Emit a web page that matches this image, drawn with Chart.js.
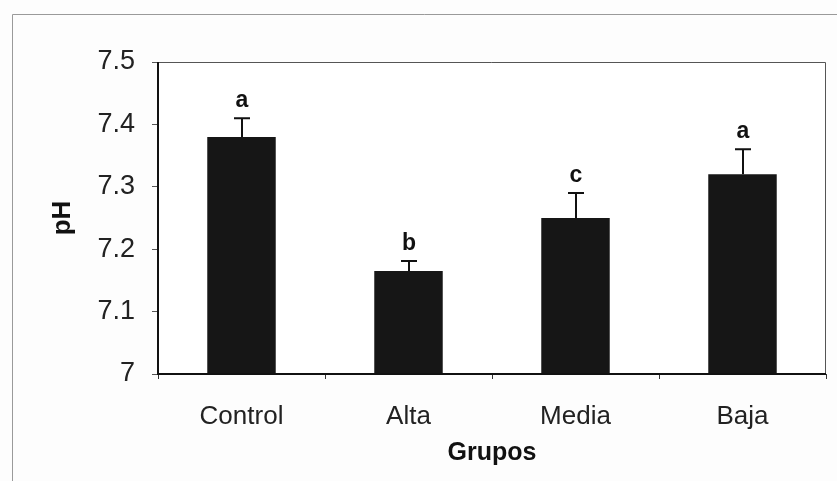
<!DOCTYPE html>
<html>
<head>
<meta charset="utf-8">
<script src="https://cdn.jsdelivr.net/npm/chart.js@4.4.1/dist/chart.umd.min.js"></script>
<style>
  html, body { margin: 0; padding: 0; background: #fdfdfd; }
  #wrap { width: 837px; height: 481px; position: relative; }
</style>
</head>
<body>
<div id="wrap"><canvas id="phChart" width="837" height="481"></canvas></div>
<script>
const grupos = ['Control', 'Alta', 'Media', 'Baja'];
const phMedia = [7.38, 7.165, 7.25, 7.32];
const phError = [0.03, 0.016, 0.04, 0.04];
const letras = ['a', 'b', 'c', 'a'];
const yTicks = [7, 7.1, 7.2, 7.3, 7.4, 7.5];

const FONT = '"Liberation Sans", Arial, sans-serif';

// outer frame of the scanned figure + plot border
const framePlugin = {
    id: 'frame',
    beforeDraw(chart) {
        const ctx = chart.ctx;
        ctx.save();
        ctx.strokeStyle = '#9a9a9a';
        ctx.lineWidth = 1;
        ctx.beginPath();
        ctx.moveTo(12.5, 481);
        ctx.lineTo(12.5, 14.5);
        ctx.lineTo(837, 14.5);
        ctx.stroke();
        const a = chart.chartArea;
        ctx.fillStyle = '#ffffff';
        ctx.fillRect(a.left, a.top, a.right - a.left, a.bottom - a.top);
        ctx.restore();
    },
    afterDatasetsDraw(chart) {
        const ctx = chart.ctx;
        const a = chart.chartArea;
        ctx.save();
        ctx.strokeStyle = '#555';
        ctx.lineWidth = 1;
        ctx.beginPath();
        ctx.moveTo(a.left, a.top + 0.5);
        ctx.lineTo(a.right - 0.5, a.top + 0.5);
        ctx.lineTo(a.right - 0.5, a.bottom);
        ctx.stroke();
        ctx.strokeStyle = '#111';
        ctx.lineWidth = 2;
        ctx.beginPath();
        ctx.moveTo(a.left, a.top);
        ctx.lineTo(a.left, a.bottom);
        ctx.lineTo(a.right, a.bottom);
        ctx.stroke();
        ctx.restore();
    }
};

// upward error bars and significance letters
const errorPlugin = {
    id: 'errorBars',
    afterDatasetsDraw(chart) {
        const ctx = chart.ctx;
        const x = chart.scales.x;
        const y = chart.scales.y;
        ctx.save();
        ctx.strokeStyle = '#111';
        ctx.lineWidth = 2;
        ctx.fillStyle = '#111';
        ctx.font = 'bold 23px ' + FONT;
        ctx.textAlign = 'center';
        ctx.textBaseline = 'alphabetic';
        phMedia.forEach((v, i) => {
            const cx = Math.round(x.getPixelForValue(i));
            const yBar = y.getPixelForValue(v);
            const yTop = y.getPixelForValue(v + phError[i]);
            ctx.beginPath();
            ctx.moveTo(cx, yBar);
            ctx.lineTo(cx, yTop);
            ctx.moveTo(cx - 8, yTop);
            ctx.lineTo(cx + 8, yTop);
            ctx.stroke();
            ctx.fillText(letras[i], cx, yTop - 11);
        });
        ctx.restore();
    }
};

new Chart(document.getElementById('phChart'), {
    type: 'bar',
    data: {
        labels: grupos,
        datasets: [{
            data: phMedia,
            backgroundColor: '#161616',
            borderWidth: 0,
            categoryPercentage: 1,
            barPercentage: 0.41
        }]
    },
    options: {
        responsive: false,
        animation: false,
        events: [],
        layout: { padding: { left: 0, right: 11, top: 62, bottom: 0 } },
        plugins: { legend: { display: false }, tooltip: { enabled: false } },
        scales: {
            x: {
                afterFit(scale) { scale.height = 107; },
                border: { display: false },
                grid: { display: true, drawOnChartArea: false, offset: true, tickLength: 5, color: '#333', lineWidth: 1 },
                ticks: { color: '#222', padding: 22, font: { family: FONT, size: 26 } },
                title: {
                    display: true,
                    text: 'Grupos',
                    color: '#111',
                    padding: { top: 0, bottom: 13 },
                    font: { family: FONT, size: 25, weight: 'bold' }
                }
            },
            y: {
                min: 7,
                max: 7.5,
                afterFit(scale) { scale.width = 158; },
                afterBuildTicks(scale) { scale.ticks = yTicks.map(v => ({ value: v })); },
                border: { display: false },
                grid: { display: true, drawOnChartArea: false, tickLength: 6, color: '#555', lineWidth: 1 },
                ticks: {
                    color: '#222',
                    padding: 17,
                    font: { family: FONT, size: 27 },
                    callback: v => String(Math.round(v * 10) / 10)
                },
                title: {
                    display: true,
                    text: 'pH',
                    color: '#111',
                    padding: { top: 47, bottom: 0 },
                    font: { family: FONT, size: 26, weight: 'bold' }
                }
            }
        }
    },
    plugins: [framePlugin, errorPlugin]
});
</script>
</body>
</html>
